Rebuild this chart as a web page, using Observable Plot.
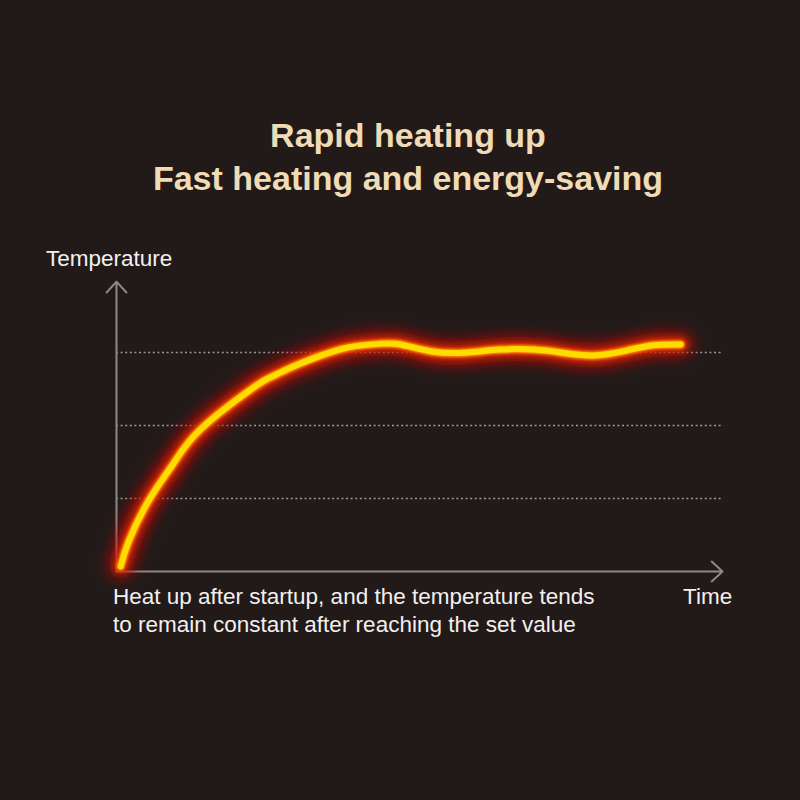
<!DOCTYPE html>
<html><head><meta charset="utf-8">
<script src="https://cdn.jsdelivr.net/npm/d3@7"></script>
<script src="https://cdn.jsdelivr.net/npm/@observablehq/plot@0.6"></script>
<style>
html,body{margin:0;padding:0;background:#221a19;}
#wrap{position:relative;width:800px;height:800px;overflow:hidden;background:#221a19;font-family:"Liberation Sans",Arial,Helvetica,sans-serif;}
#chart{position:absolute;left:0;top:0;}
.t{position:absolute;white-space:nowrap;z-index:2;}
#title{left:8px;width:800px;top:114px;text-align:center;font-weight:bold;font-size:34px;line-height:43px;color:#efdcb6;}
.lab{font-size:22.5px;line-height:22.5px;color:#f2f0ef;}
#ylab{left:46px;top:248px;}
#xlab{left:683px;top:586px;}
#caption{left:113px;top:583px;font-size:22.5px;line-height:28px;color:#f2f0ef;}
</style>
</head><body>
<div id="wrap">
  <div id="chart"></div>
  <div class="t" id="title"></div>
  <div class="t lab" id="ylab"></div>
  <div class="t lab" id="xlab"></div>
  <div class="t" id="caption"></div>
</div>
<script>
// ---- data ----
const titleLines = ["Rapid heating up", "Fast heating and energy-saving"];
const yLabel = "Temperature";
const xLabel = "Time";
const captionLines = ["Heat up after startup, and the temperature tends", "to remain constant after reaching the set value"];

const time =        [0.07, 0.20, 0.53, 0.94, 1.39, 2.21, 2.54, 2.87, 3.25, 3.83, 4.36, 4.69, 5.23, 5.79, 6.34, 6.88, 7.33, 7.87, 8.43, 8.86, 9.31];
const temperature = [0.07, 0.41, 0.97, 1.48, 1.95, 2.49, 2.66, 2.79, 2.92, 3.07, 3.12, 3.11, 3.01, 3.00, 3.04, 3.04, 3.00, 2.96, 3.03, 3.10, 3.11];
const gridLevels = [1, 2, 3];
const xAxisEnd = 10;
const yAxisEnd = 3.97;

// ---- text ----
document.getElementById("title").innerHTML = titleLines.join("<br>");
document.getElementById("ylab").textContent = yLabel;
document.getElementById("xlab").textContent = xLabel;
document.getElementById("caption").innerHTML = captionLines.join("<br>");

const curve = time.map((t, i) => ({t, v: temperature[i]}));
const axes = [
  {x1: 0, y1: 0, x2: 0, y2: yAxisEnd},
  {x1: 0, y1: 0, x2: xAxisEnd, y2: 0}
];

const HALO = "#c40c00", EDGE = "#f03a00", RIM = "#ff9a00", CORE = "#ffdc00";
const lineOpts = {x: "t", y: "v", curve: "natural", strokeLinecap: "round", strokeLinejoin: "round"};

const chart = Plot.plot({
  width: 800,
  height: 800,
  marginLeft: 116,
  marginRight: 78,
  marginTop: 279,
  marginBottom: 229,
  x: {domain: [0, 10], axis: null},
  y: {domain: [0, 4], axis: null},
  style: {background: "transparent", overflow: "visible"},
  marks: [
    Plot.ruleY(gridLevels, {y: d => d, x1: () => 0, x2: () => xAxisEnd, stroke: "#9d9795", strokeWidth: 1.5, strokeDasharray: "2,2.6"}),
    Plot.arrow(axes, {x1: "x1", y1: "y1", x2: "x2", y2: "y2", stroke: "#8e8888", strokeWidth: 2, headAngle: 85, headLength: 11}),
    Plot.line(curve, {...lineOpts, stroke: HALO, strokeWidth: 24, strokeOpacity: 0.9}),
    Plot.line(curve, {...lineOpts, stroke: EDGE, strokeWidth: 11, strokeOpacity: 0.9}),
    Plot.line(curve, {...lineOpts, stroke: RIM, strokeWidth: 8}),
    Plot.line(curve, {...lineOpts, stroke: CORE, strokeWidth: 6})
  ]
});

const svg = d3.select(chart);
const defs = svg.insert("defs", ":first-child");
function addBlur(id, sd) {
  defs.append("filter").attr("id", id).attr("filterUnits", "userSpaceOnUse")
    .attr("x", 0).attr("y", 0).attr("width", 800).attr("height", 800)
    .append("feGaussianBlur").attr("stdDeviation", sd);
}
addBlur("bHalo", 7);
addBlur("bEdge", 2.5);
addBlur("bRim", 0.8);
const byStroke = c => svg.selectAll("g").filter(function() { return this.getAttribute("stroke") === c; });
byStroke(HALO).attr("filter", "url(#bHalo)");
byStroke(EDGE).attr("filter", "url(#bEdge)");
byStroke(RIM).attr("filter", "url(#bRim)");

document.getElementById("chart").appendChild(chart);
</script>
</body></html>
